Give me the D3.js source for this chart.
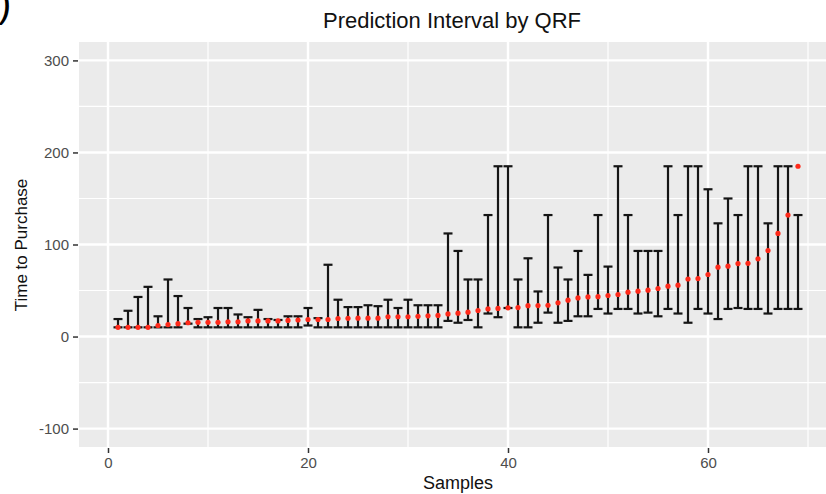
<!DOCTYPE html>
<html>
<head>
<meta charset="utf-8">
<script src="https://cdn.jsdelivr.net/npm/d3@7/dist/d3.min.js"></script>
<style>
  html, body { margin: 0; padding: 0; background: #fff; }
  svg { display: block; }
</style>
</head>
<body>
<svg id="chart" width="826" height="494"></svg>
<script>
// ---- data ----
const samples = [1,2,3,4,5,6,7,8,9,10,11,12,13,14,15,16,17,18,19,20,21,22,23,24,25,26,27,28,29,30,31,32,33,34,35,36,37,38,39,40,41,42,43,44,45,46,47,48,49,50,51,52,53,54,55,56,57,58,59,60,61,62,63,64,65,66,67,68,69];
const lower = [10,10,10,10,10,10,10,14,10,10,10,10,10,10,10,10,10,10,10,12,10,10,10,10,10,10,10,10,10,10,10,10,10,17,15,18,10,25,21,31,10,10,15,26,15,17,22,22,30,25,30,30,25,26,22,30,25,15,30,25,19,30,31,30,30,25,30,30,30];
const upper = [19,28,43,54,22,62,44,31,19,21,31,31,24,21,29,19,18,22,22,31,20,78,40,32,32,34,33,40,31,40,34,34,34,112,93,62,62,132,185,185,62,85,49,132,75,62,93,67,132,76,185,132,93,93,93,185,132,185,185,160,123,150,132,185,185,123,185,185,132];
const predicted = [10,10,10,10,12,13,14,15,15.5,15.5,15.5,16,16,17,17,17,17,17.5,18,18.5,18.5,18.5,19.6,19.8,20,20,20,21.5,21.5,21.5,22,22.5,23,24.6,25.4,26.5,28.3,30,30.5,31.2,31.5,33.5,33.7,34,36.6,39.5,42,43,43.3,44.6,45.7,48.2,49.3,50.4,52.2,54.7,55.8,62.5,63,67.4,75.4,76.4,79.3,79.5,84.4,93.5,112,132,185];
const xTicks = [0,20,40,60];
const xMinor = [10,30,50,70];
const yTicks = [-100,0,100,200,300];
const yMinor = [-50,50,150,250];
const titleText = "Prediction Interval by QRF";
const xTitle = "Samples";
const yTitle = "Time to Purchase";

const rows = samples.map((s, i) => ({ s, lo: lower[i], hi: upper[i], p: predicted[i] }));

// ---- layout ----
const svg = d3.select("#chart");
const panel = { left: 79, right: 837, top: 42, bottom: 447 };
const x = d3.scaleLinear().domain([-2.9, 72.9]).range([panel.left, panel.right]);
const y = d3.scaleLinear().domain([-120, 320]).range([panel.bottom, panel.top]);
const font = "'Liberation Sans', Arial, Helvetica, sans-serif";

svg.append("rect").attr("width", 826).attr("height", 494).attr("fill", "#ffffff");

// panel background
svg.append("rect")
  .attr("x", panel.left).attr("y", panel.top)
  .attr("width", panel.right - panel.left).attr("height", panel.bottom - panel.top)
  .attr("fill", "#EBEBEB");

const grid = svg.append("g");
// minor grid
grid.selectAll(".ymin").data(yMinor).join("line")
  .attr("x1", panel.left).attr("x2", panel.right)
  .attr("y1", d => y(d)).attr("y2", d => y(d))
  .attr("stroke", "#fff").attr("stroke-width", 1.2);
grid.selectAll(".xmin").data(xMinor).join("line")
  .attr("y1", panel.top).attr("y2", panel.bottom)
  .attr("x1", d => x(d)).attr("x2", d => x(d))
  .attr("stroke", "#fff").attr("stroke-width", 1.2);
// major grid
grid.selectAll(".ymaj").data(yTicks).join("line")
  .attr("x1", panel.left).attr("x2", panel.right)
  .attr("y1", d => y(d)).attr("y2", d => y(d))
  .attr("stroke", "#fff").attr("stroke-width", 2.4);
grid.selectAll(".xmaj").data(xTicks).join("line")
  .attr("y1", panel.top).attr("y2", panel.bottom)
  .attr("x1", d => x(d)).attr("x2", d => x(d))
  .attr("stroke", "#fff").attr("stroke-width", 2.4);

// axes
const fmt = d => String(d);
const yAxis = d3.axisLeft(y).tickValues(yTicks).tickFormat(fmt).tickSize(5).tickPadding(4);
const gy = svg.append("g").attr("transform", `translate(${panel.left - 1},0)`).call(yAxis);
const xAxis = d3.axisBottom(x).tickValues(xTicks).tickFormat(fmt).tickSize(5).tickPadding(4);
const gx = svg.append("g").attr("transform", `translate(0,${panel.bottom + 1})`).call(xAxis);
[gx, gy].forEach(g => {
  g.select(".domain").remove();
  g.selectAll(".tick line").attr("stroke", "#333333").attr("stroke-width", 1.5);
  g.selectAll(".tick text").attr("fill", "#4D4D4D").style("font-family", font).style("font-size", "15px");
});

// error bars
const capHalf = (x(0.45) - x(0));
const eb = svg.append("g").attr("stroke", "#151515").attr("stroke-width", 2.2).attr("fill", "none");
eb.selectAll(".v").data(rows).join("line")
  .attr("x1", d => x(d.s)).attr("x2", d => x(d.s))
  .attr("y1", d => y(d.lo)).attr("y2", d => y(d.hi));
eb.selectAll(".t").data(rows).join("line")
  .attr("x1", d => x(d.s) - capHalf).attr("x2", d => x(d.s) + capHalf)
  .attr("y1", d => y(d.hi)).attr("y2", d => y(d.hi));
eb.selectAll(".b").data(rows).join("line")
  .attr("x1", d => x(d.s) - capHalf).attr("x2", d => x(d.s) + capHalf)
  .attr("y1", d => y(d.lo)).attr("y2", d => y(d.lo));

// predicted points
svg.append("g").selectAll("circle").data(rows).join("circle")
  .attr("cx", d => x(d.s)).attr("cy", d => y(d.p)).attr("r", 2.6)
  .attr("fill", "#FF2A1A");

// titles
svg.append("text").attr("x", 452).attr("y", 28).attr("text-anchor", "middle")
  .style("font-family", font).style("font-size", "22px").attr("fill", "#111")
  .text(titleText);
svg.append("text").attr("x", 458).attr("y", 489).attr("text-anchor", "middle")
  .style("font-family", font).style("font-size", "18px").attr("fill", "#111")
  .text(xTitle);
svg.append("text").attr("transform", "translate(27,245) rotate(-90)").attr("text-anchor", "middle")
  .style("font-family", font).style("font-size", "17px").attr("fill", "#111")
  .text(yTitle);

// cropped panel label fragment at the top-left corner (cut off in the reference too)
svg.append("text").attr("x", -2).attr("y", 17)
  .style("font-family", font).style("font-size", "40px").attr("fill", "#000")
  .text(")");
</script>
</body>
</html>
